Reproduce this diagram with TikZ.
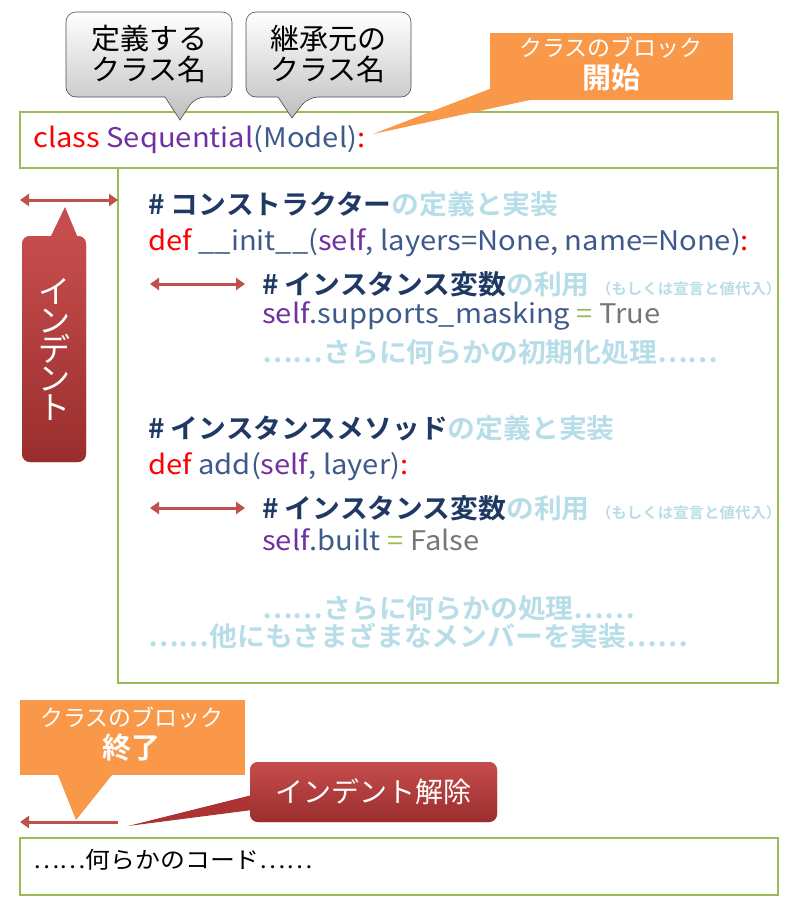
\documentclass[tikz,border=0pt]{standalone}
\usepackage{fontspec}
\setmainfont{Noto Sans CJK JP}
\newfontfamily\jpb[BoldFont=Noto Sans CJK JP Bold]{Noto Sans CJK JP}
\usetikzlibrary{arrows.meta}
\definecolor{grn}{RGB}{155,187,89}
\definecolor{kred}{RGB}{255,0,0}
\definecolor{kpur}{RGB}{112,48,160}
\definecolor{kblu}{RGB}{61,90,138}
\definecolor{knav}{RGB}{31,56,100}
\definecolor{klt}{RGB}{183,222,232}
\definecolor{kgr}{RGB}{118,118,118}
\definecolor{org}{RGB}{249,152,72}
\definecolor{dred}{RGB}{192,57,57}
\definecolor{arr}{RGB}{192,80,77}
\newcommand{\fs}[1]{\fontsize{#1}{#1}\selectfont}
\begin{document}
\begin{tikzpicture}[x=1pt,y=-1pt,
  code/.style={anchor=west,inner sep=0pt,font=\fs{27},text=kblu,xscale=1.08},
  cmt/.style={anchor=west,inner sep=0pt,font=\jpb\bfseries\fs{27},xscale=1.03},
  gbox/.style={draw=grn,line width=2pt},
  darr/.style={draw=arr,line width=3pt,{Triangle[length=9pt,width=12pt]}-{Triangle[length=9pt,width=12pt]}},
  gcall/.style={draw=black!70,line width=0.6pt,rounded corners=10pt,top color=white,bottom color=black!25},
  rcall/.style={fill=dred,rounded corners=8pt,top color=dred!90!white,bottom color=dred!80!black},
  lbl/.style={inner sep=0pt,align=center}]
\useasboundingbox (0,0) rectangle (796,911);
\draw[gbox] (20,112) rectangle (778,168);
\draw[gbox] (118,168) rectangle (778,683);
\draw[gbox] (20,838) rectangle (778,895);
% gray callouts
\draw[gcall] (66,12) -- (232,12) -- (232,97) -- (195,97) [sharp corners]-- (180,120) -- (165,97) [rounded corners=10pt]-- (66,97) -- cycle;
\node[lbl,font=\fs{29}] (g1) at (149,54) {定義する\\[2pt]クラス名};
\draw[gcall] (246,12) -- (411,12) -- (411,97) -- (308,97) [sharp corners]-- (292,118) -- (278,97) [rounded corners=10pt]-- (246,97) -- cycle;
\node[lbl,font=\fs{29}] (g2) at (328,54) {継承元の\\[2pt]クラス名};
% orange start
\fill[org] (490,33) rectangle (733,100);
\fill[org] (500,85) -- (373,134) -- (530,100) -- cycle;
\node[lbl,text=white] (o1) at (611,64) {{\fs{23}クラスのブロック}\\[4pt]{\jpb\bfseries\fs{29}開始}};
\node[code] (c0) at (33,140) {\textcolor{kred}{class} \textcolor{kpur}{Sequential}(Model)\textcolor{kred}{:}};
% indent arrow & label
\coordinate (ia) at (20,200); \coordinate (ib) at (118,200);
\draw[darr] (ia) -- (ib);
\fill[rcall] (22,236) rectangle (86,462);
\fill[dred!90!white] (50,238) -- (65,207) -- (78,238) -- cycle;
\node[lbl,text=white,font=\fs{32}] (ind) at (54,349) {イ\\[-3pt]ン\\[-3pt]デ\\[-3pt]ン\\[-3pt]ト};
% block 1
\node[cmt] (l1) at (148,204) {\textcolor{knav}{\# コンストラクター}\textcolor{klt}{の定義と実装}};
\node[code] (l2) at (148,243) {\textcolor{kred}{def} \_\_init\_\_(\textcolor{kpur}{self}, layers=None, name=None)\textcolor{kred}{:}};
\coordinate (a1) at (150,284); \coordinate (a2) at (245,284);
\draw[darr] (a1) -- (a2);
\node[cmt] (l3) at (262,284) {\textcolor{knav}{\# インスタンス変数}\textcolor{klt}{の利用 {\fs{15}（もしくは宣言と値代入）}}};
\node[code] (l4) at (262,316) {\textcolor{kpur}{self}.supports\_masking \textcolor{grn}{=} \textcolor{kgr}{True}};
\node[cmt,text=klt] (l5) at (262,352) {……さらに何らかの初期化処理……};
% block 2
\node[cmt] (l6) at (148,428) {\textcolor{knav}{\# インスタンスメソッド}\textcolor{klt}{の定義と実装}};
\node[code] (l7) at (148,467) {\textcolor{kred}{def} add(\textcolor{kpur}{self}, layer)\textcolor{kred}{:}};
\coordinate (b1) at (150,508); \coordinate (b2) at (245,508);
\draw[darr] (b1) -- (b2);
\node[cmt] (l8) at (262,508) {\textcolor{knav}{\# インスタンス変数}\textcolor{klt}{の利用 {\fs{15}（もしくは宣言と値代入）}}};
\node[code] (l9) at (262,540) {\textcolor{kpur}{self}.built \textcolor{grn}{=} \textcolor{kgr}{False}};
\node[cmt,text=klt] (l10) at (262,608) {……さらに何らかの処理……};
\node[cmt,text=klt] (l11) at (148,636) {……他にもさまざまなメンバーを実装……};
% bottom orange
\fill[org] (20,700) rectangle (245,775);
\fill[org] (58,775) -- (76,820) -- (112,775) -- cycle;
\node[lbl,text=white] (o2) at (132,734) {{\fs{23}クラスのブロック}\\[4pt]{\jpb\bfseries\fs{29}終了}};
\coordinate (e1) at (118,822); \coordinate (e2) at (20,822);
\draw[draw=arr,line width=3pt,-{Triangle[length=9pt,width=12pt]}] (e1) -- (e2);
\fill[dred!90!black] (252,795) -- (128,826) -- (252,810) -- cycle;
\fill[rcall] (250,762) rectangle (497,822);
\node[lbl,text=white,font=\fs{28}] (ik) at (373,792) {インデント解除};
\node[code,text=black,font=\fs{23},xscale=1] (last) at (33,860) {……何らかのコード……};
\end{tikzpicture}
\end{document}
